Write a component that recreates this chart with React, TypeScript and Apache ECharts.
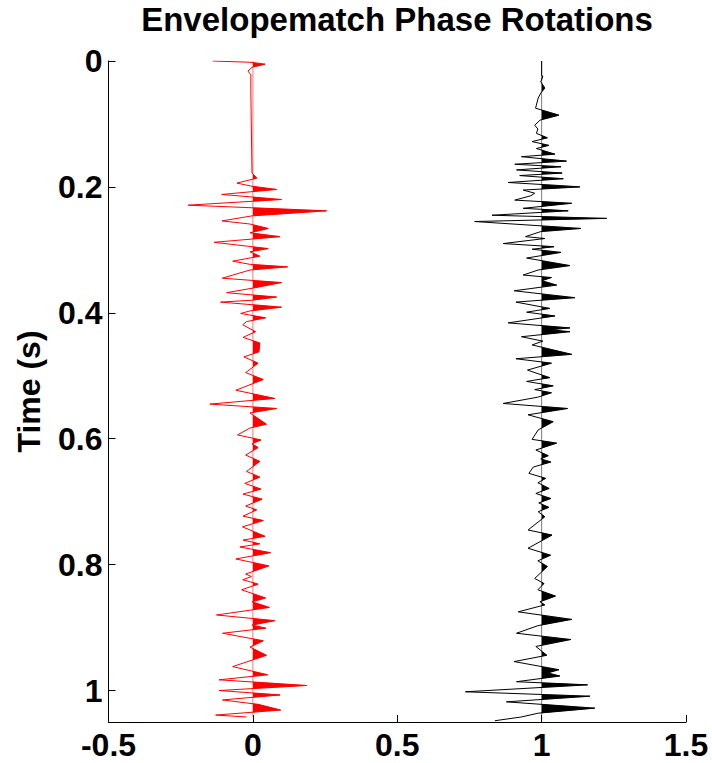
import React, { useEffect, useRef } from 'react';
import * as echarts from 'echarts';

const titleText = 'Envelopematch Phase Rotations';
const yAxisName = 'Time (s)';
const xTicks = [-0.5, 0, 0.5, 1, 1.5];
const yTicks = [0, 0.2, 0.4, 0.6, 0.8, 1];
const traceOffsets = [0, 1];
const traceColors = ['#ff0000', '#000000'];

const redTime = [
  0, 0.002, 0.005, 0.010, 0.016, 0.022, 0.051, 0.178, 0.186, 0.194,
  0.199, 0.204, 0.212, 0.220, 0.229, 0.238, 0.246, 0.254, 0.259, 0.266,
  0.273, 0.279, 0.288, 0.294, 0.298, 0.303, 0.310, 0.318, 0.323, 0.327,
  0.332, 0.345, 0.352, 0.361, 0.368, 0.375, 0.380, 0.383, 0.391, 0.397,
  0.401, 0.408, 0.414, 0.419, 0.430, 0.439, 0.448, 0.462, 0.470, 0.480,
  0.495, 0.506, 0.523, 0.536, 0.545, 0.552, 0.559, 0.577, 0.583, 0.594,
  0.602, 0.608, 0.614, 0.626, 0.636, 0.652, 0.661, 0.671, 0.680, 0.688,
  0.696, 0.707, 0.713, 0.723, 0.730, 0.740, 0.755, 0.761, 0.767, 0.772,
  0.781, 0.791, 0.802, 0.815, 0.819, 0.824, 0.831, 0.840, 0.853, 0.859,
  0.868, 0.880, 0.889, 0.896, 0.901, 0.909, 0.921, 0.931, 0.944, 0.962,
  0.975, 0.983, 0.992, 1.000, 1.007, 1.015, 1.022, 1.031, 1.039, 1.042,
];
const redAmp = [
  -0.139, -0.010, 0.042, -0.003, -0.017, -0.007, -0.007, -0.003, 0.014, -0.055,
  -0.003, 0.082, -0.108, 0.099, -0.224, 0.255, -0.003, -0.107, -0.010, 0.053,
  -0.010, 0.094, -0.134, -0.022, 0.053, -0.010, 0.024, -0.070, -0.010, 0.120,
  -0.010, -0.106, 0.099, -0.003, -0.091, 0.082, -0.003, -0.112, 0.099, -0.010,
  -0.042, 0.044, -0.022, -0.035, 0.009, -0.034, 0.024, 0.021, -0.031, 0.018,
  -0.025, 0.036, -0.059, 0.076, -0.149, 0.082, -0.010, 0.047, -0.010, -0.053,
  0.028, -0.003, 0.018, -0.025, 0.024, -0.022, 0.024, -0.028, 0.028, -0.034,
  0.032, -0.025, 0.013, -0.034, 0.036, -0.036, 0.042, -0.034, 0.024, -0.045,
  0.061, -0.059, 0.055, -0.025, -0.005, -0.035, 0.018, -0.039, 0.044, -0.003,
  0.057, -0.126, 0.076, -0.003, 0.045, -0.105, 0.036, -0.010, 0.047, -0.070,
  0.051, -0.117, 0.186, -0.117, 0.094, -0.105, 0.018, 0.096, -0.129, -0.022,
];

const blackTime = [
  0, 0.022, 0.025, 0.033, 0.043, 0.051, 0.059, 0.075, 0.086, 0.094,
  0.102, 0.108, 0.115, 0.122, 0.128, 0.134, 0.139, 0.148, 0.152, 0.159,
  0.164, 0.168, 0.173, 0.178, 0.182, 0.187, 0.193, 0.198, 0.200, 0.205,
  0.210, 0.214, 0.221, 0.226, 0.234, 0.238, 0.245, 0.250, 0.255, 0.266,
  0.271, 0.279, 0.282, 0.290, 0.295, 0.299, 0.304, 0.313, 0.325, 0.332,
  0.340, 0.344, 0.349, 0.356, 0.365, 0.376, 0.383, 0.393, 0.399, 0.405,
  0.416, 0.424, 0.427, 0.430, 0.438, 0.445, 0.451, 0.466, 0.473, 0.480,
  0.491, 0.503, 0.509, 0.516, 0.522, 0.527, 0.534, 0.544, 0.552, 0.562,
  0.573, 0.586, 0.601, 0.607, 0.618, 0.627, 0.632, 0.637, 0.645, 0.655,
  0.663, 0.670, 0.679, 0.687, 0.695, 0.702, 0.709, 0.716, 0.724, 0.745,
  0.753, 0.774, 0.785, 0.794, 0.803, 0.822, 0.830, 0.840, 0.850, 0.859,
  0.864, 0.875, 0.887, 0.897, 0.909, 0.919, 0.930, 0.944, 0.954, 0.967,
  0.972, 0.977, 0.986, 0.991, 1.002, 1.009, 1.018, 1.028, 1.036, 1.042,
  1.048,
];
const blackAmp = [
  0, 0, 0.004, -0.003, 0.011, -0.003, -0.012, -0.021, 0.060, -0.006,
  -0.024, -0.013, -0.018, 0.020, -0.033, 0.025, -0.018, 0.046, -0.070, 0.086,
  -0.093, 0.067, -0.087, 0.071, -0.076, 0.075, -0.116, 0.067, 0.132, -0.064,
  -0.024, -0.037, -0.093, 0.104, -0.064, 0.092, -0.172, 0.225, -0.232, 0.136,
  -0.003, -0.056, 0.011, -0.133, 0.043, -0.033, 0.067, -0.052, 0.098, -0.012,
  -0.064, 0.034, 0.001, 0.052, -0.095, 0.115, -0.089, 0.028, -0.052, 0.046,
  -0.116, 0.098, 0.028, 0.098, -0.070, 0.004, -0.033, 0.104, -0.089, 0.034,
  -0.049, 0.028, -0.052, 0.040, -0.024, 0.034, -0.013, -0.133, 0.090, -0.047,
  0.040, -0.012, -0.033, 0.052, -0.020, 0.023, -0.003, 0.032, -0.029, -0.044,
  0.014, -0.013, 0.026, -0.020, 0.032, -0.010, 0.025, -0.012, 0.011, -0.047,
  0.036, -0.047, 0.031, -0.013, 0.020, -0.024, 0.008, -0.013, 0.048, -0.006,
  0.011, -0.081, 0.104, -0.013, -0.087, 0.101, -0.020, 0.018, -0.095, 0.060,
  0.021, 0.063, -0.087, 0.159, -0.264, 0.167, -0.122, 0.184, -0.012, -0.070,
  -0.162,
];

const traceTimes = [redTime, blackTime];
const traceAmps = [redAmp, blackAmp];

function positiveFill(times: number[], amps: number[], offset: number): number[][] {
  const pts: number[][] = [];
  for (let i = 0; i < times.length; i++) {
    const a = amps[i];
    const t = times[i];
    if (i > 0) {
      const pa = amps[i - 1];
      const pt = times[i - 1];
      if ((pa > 0 && a < 0) || (pa < 0 && a > 0)) {
        const f = pa / (pa - a);
        pts.push([offset, pt + f * (t - pt)]);
      }
    }
    pts.push([offset + Math.max(a, 0), t]);
  }
  pts.push([offset, times[times.length - 1]]);
  pts.push([offset, times[0]]);
  return pts;
}

const FONT = '"Liberation Sans", Arial, Helvetica, sans-serif';

export default function App() {
  const ref = useRef<HTMLDivElement>(null);
  useEffect(() => {
    document.body.style.margin = '0';
    if (!ref.current) return;
    const chart = echarts.init(ref.current, undefined, { renderer: 'svg' });
    const fills = traceOffsets.map((o, k) => positiveFill(traceTimes[k], traceAmps[k], o));
    const lineSeries = traceOffsets.map((o, k) => ({
      type: 'line',
      name: k === 0 ? 'trace 1' : 'trace 2',
      data: traceTimes[k].map((t, i) => [o + traceAmps[k][i], t]),
      symbol: 'none',
      showSymbol: false,
      lineStyle: { color: traceColors[k], width: 1 },
      itemStyle: { color: traceColors[k] },
      silent: true,
      z: 3,
    }));
    const option: any = {
      animation: false,
      backgroundColor: '#ffffff',
      title: {
        text: titleText,
        left: 397,
        top: 3,
        padding: 0,
        textAlign: 'center',
        textStyle: { fontFamily: FONT, fontSize: 33, fontWeight: 'bold', color: '#000' },
      },
      grid: { left: 108.5, top: 61, width: 577.5, height: 661, containLabel: false, outerBoundsMode: 'none' },
      xAxis: {
        type: 'value',
        min: -0.5,
        max: 1.5,
        interval: 0.5,
        position: 'bottom',
        axisLine: { onZero: false, lineStyle: { color: '#000', width: 1 } },
        axisTick: { inside: true, length: 7, lineStyle: { color: '#000' }, customValues: xTicks },
        axisLabel: {
          customValues: xTicks,
          fontFamily: FONT, fontSize: 32, fontWeight: 'bold', color: '#000', margin: 7,
        },
        splitLine: { show: false },
      },
      yAxis: {
        type: 'value',
        inverse: true,
        min: 0,
        max: 1.05,
        interval: 0.2,
        name: yAxisName,
        nameLocation: 'middle',
        nameGap: 64,
        nameTextStyle: { fontFamily: FONT, fontSize: 32, fontWeight: 'bold', color: '#000' },
        axisLine: { onZero: false, lineStyle: { color: '#000', width: 1 } },
        axisTick: { inside: true, length: 7, lineStyle: { color: '#000' }, customValues: yTicks },
        axisLabel: {
          customValues: yTicks,
          fontFamily: FONT, fontSize: 32, fontWeight: 'bold', color: '#000', margin: 6,
        },
        splitLine: { show: false },
      },
      series: [
        {
          type: 'custom',
          name: 'positive fill',
          silent: true,
          data: [[0, 0], [1, 0]],
          encode: { x: 0, y: 1 },
          z: 2,
          renderItem: (params: any, api: any) => {
            const k = params.dataIndex;
            const pts = fills[k].map((p) => api.coord(p));
            return {
              type: 'polygon',
              shape: { points: pts },
              style: { fill: traceColors[k], stroke: traceColors[k], lineWidth: 0.3 },
            };
          },
        },
        ...lineSeries,
      ],
    };
    chart.setOption(option);
    return () => chart.dispose();
  }, []);
  return <div ref={ref} style={{ width: 712, height: 763 }} />;
}
